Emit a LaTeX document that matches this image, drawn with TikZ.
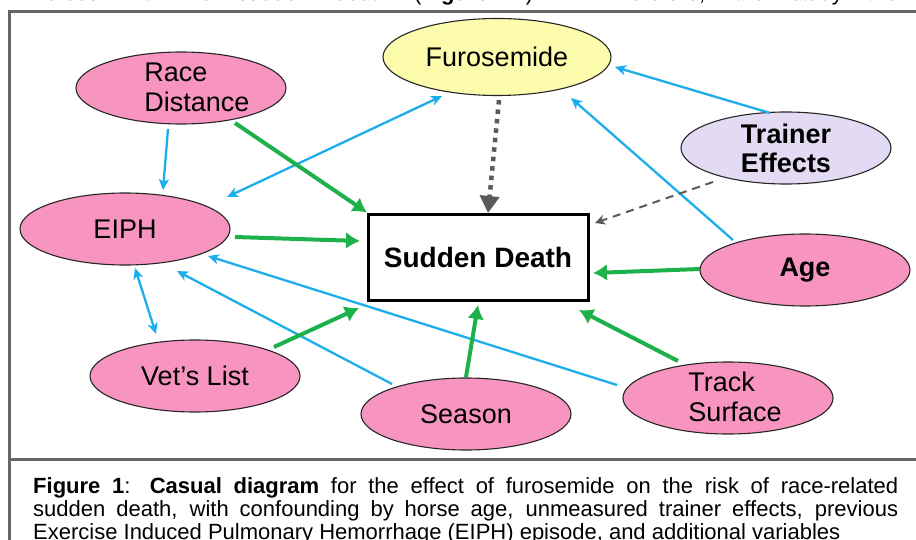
\documentclass[tikz,border=0pt]{standalone}
\usepackage{fontspec}
\setmainfont{Liberation Sans}
\usetikzlibrary{arrows.meta,shapes.geometric,calc}
\definecolor{pinkfill}{HTML}{F894C0}
\definecolor{yellowfill}{HTML}{FCFCAC}
\definecolor{lavfill}{HTML}{E3DAF3}
\definecolor{grn}{HTML}{1DB14B}
\definecolor{blu}{HTML}{1CAEEA}
\definecolor{gry}{HTML}{5A5A5A}
\definecolor{framegray}{HTML}{666666}
\begin{document}
\begin{tikzpicture}[x=1pt,y=-1pt,
  nodefont/.style={font=\fontsize{27}{30}\selectfont},
  boldfont/.style={font=\bfseries\fontsize{27}{29}\selectfont},
  ell/.style={ellipse, draw=black!85, line width=1.1pt, minimum width=210pt, minimum height=72pt, inner sep=0pt, nodefont},
  pinkell/.style={ell, fill=pinkfill},
  lbl/.style={nodefont, align=left, inner sep=0pt},
  garrow/.style={draw=grn, line width=4pt, -{Latex[length=14pt,width=17pt]}},
  barrow/.style={draw=blu, line width=2.3pt, -{Stealth[length=11pt,width=10pt,inset=3pt]}},
  barrowd/.style={draw=blu, line width=2.3pt, {Stealth[length=11pt,width=10pt,inset=3pt]}-{Stealth[length=11pt,width=10pt,inset=3pt]}},
  dotarrow/.style={draw=gry, line width=4.5pt, dash pattern=on 4.5pt off 5pt, -{Triangle[length=17pt,width=19pt]}},
  dasharrow/.style={draw=gry, line width=2pt, dash pattern=on 8pt off 6pt, -{Stealth[length=10pt,width=10pt,inset=3pt]}},
  framestyle/.style={draw=framegray, line width=3pt}
]
\useasboundingbox (0,0) rectangle (916,540);
\clip (0,0) rectangle (916,540);
\fill[white] (0,0) rectangle (916,540);

% cut-off line of text above the frame (only its descenders are visible)
\node[anchor=base west, inner sep=0pt, font=\fontsize{22}{23}\selectfont] (toptext) at (33,1)
  {\makebox[865pt][s]{horses with no sudden death (\textbf{Figure 1}). Therefore, the study the}};

% frame
\draw[framestyle] (940,12) -- (9.5,12) -- (9.5,560);
\draw[framestyle] (9.5,459) -- (940,459);

% nodes
\node[ell, fill=yellowfill, minimum width=228pt, minimum height=77pt] (furo) at (497,57) {Furosemide};
\node[pinkell] (rd) at (181,88) {};
\node[lbl] (rdlabel) at (197,87) {Race\\Distance};
\node[pinkell] (eiph) at (125,229) {EIPH};
\node[pinkell] (vet) at (195,376) {Vet’s List};
\node[pinkell] (season) at (466,414) {Season};
\node[pinkell] (track) at (728,398) {};
\node[lbl] (tracklabel) at (735,397) {Track\\Surface};
\node[pinkell, boldfont] (age) at (805,270) {Age};
\node[ell, fill=lavfill, boldfont, align=center] (trainer) at (786,148) {Trainer\\Effects};
\node[draw=black, line width=3pt, fill=white, minimum width=220pt, minimum height=85pt, inner sep=0pt,
      font=\bfseries\fontsize{28}{30}\selectfont] (sd) at (478,257.5) {Sudden Death};

% blue connectors
\draw[barrow] ($(rd)+(-13,41)$) -- ($(eiph)+(38,-39)$);
\draw[barrowd] ($(eiph)+(102,-32)$) -- ($(furo)+(-55,39)$);
\draw[barrowd] ($(eiph)+(10,39)$) -- ($(vet)+(-39,-42)$);
\draw[barrow] ($(season)+(-74,-30)$) -- ($(eiph)+(52,42)$);
\draw[barrow] ($(track)+(-111,-13)$) -- ($(eiph)+(83,27)$);
\draw[barrow] ($(age)+(-72,-30)$) -- ($(furo)+(74,41)$);
\draw[barrow] ($(trainer)+(-16,-35)$) -- ($(furo)+(118,10)$);

% green connectors
\draw[garrow] ($(rd)+(54,35)$) -- ($(sd)+(-111,-45)$);
\draw[garrow] ($(eiph)+(110,8)$) -- ($(sd)+(-118,-16.5)$);
\draw[garrow] ($(vet)+(79,-29)$) -- ($(sd)+(-119,50.5)$);
\draw[garrow] ($(season)+(0,-37)$) -- ($(sd)+(0,47.5)$);
\draw[garrow] ($(track)+(-50,-37)$) -- ($(sd)+(101,52.5)$);
\draw[garrow] ($(age)+(-105,-1)$) -- ($(sd)+(115,15.5)$);

% gray connectors
\draw[dotarrow] ($(furo)+(2,43)$) -- ($(sd)+(10,-44.5)$);
\draw[dasharrow] ($(trainer)+(-73,34)$) -- ($(sd)+(117,-34.5)$);

% caption
\node[anchor=north west, inner sep=0pt, text width=865pt, align=justify, font=\fontsize{22}{23}\selectfont] (caption) at (33,477)
  {\textbf{Figure 1}: \textbf{Casual diagram} for the effect of furosemide on the risk of race-related\linebreak
   sudden death, with confounding by horse age, unmeasured trainer effects, previous\linebreak
   Exercise Induced Pulmonary Hemorrhage (EIPH) episode, and additional variables};
\end{tikzpicture}
\end{document}
